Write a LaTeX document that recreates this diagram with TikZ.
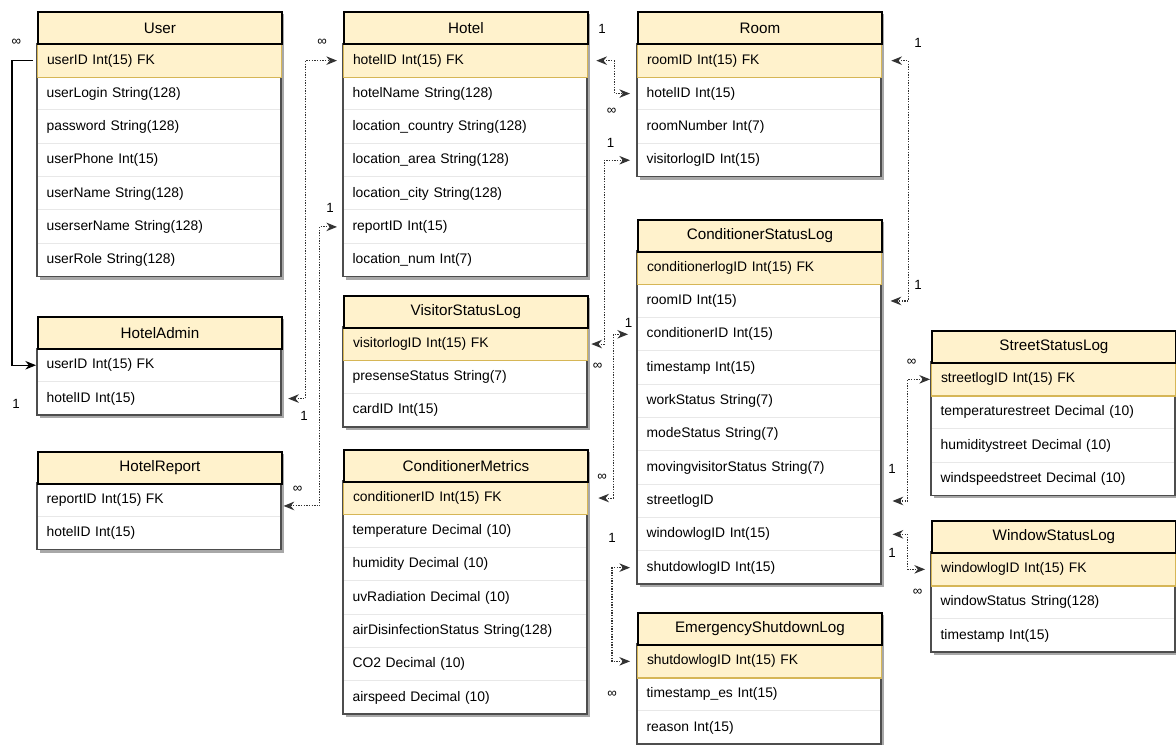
\documentclass[tikz,border=0pt]{standalone}
\usepackage{fontspec}
\setmainfont{Liberation Sans}
\usetikzlibrary{arrows.meta,calc}
\definecolor{hdrfill}{HTML}{FFF2CC}
\definecolor{fkfill}{HTML}{FFF2CC}
\definecolor{fkline}{HTML}{D6B656}
\definecolor{bodyc}{HTML}{4D4D4D}
\definecolor{sepc}{HTML}{E8E8E8}
\definecolor{connc}{HTML}{333333}
\definecolor{shadowc}{HTML}{A8A8A8}
\tikzset{
  hdr/.style={anchor=north west, minimum width=183pt, minimum height=24pt, inner sep=0pt,
    fill=hdrfill, draw=black, line width=1.4pt, font=\fontsize{11.4}{13}\selectfont},
  row/.style={anchor=north west, minimum width=183pt, minimum height=25pt, inner xsep=7pt,
    inner ysep=0pt, text width=169pt, align=left, font=\fontsize{10.4}{12}\selectfont},
  fkrow/.style={fill=fkfill, draw=fkline, line width=1pt},
  plainrow/.style={},
  bodybox/.style={fill=white, draw=bodyc, line width=1.2pt},
  sepline/.style={draw=sepc, line width=0.75pt},
  shadowbox/.style={fill=shadowc},
  tipc/.tip={Stealth[length=8pt, width=6.4pt, inset=2.6pt]},
  conn/.style={draw=connc, line width=0.8pt, dash pattern=on 1pt off 1pt, tipc-tipc},
  solidconn/.style={draw=black, line width=0.85pt, -tipc},
  lbl/.style={inner sep=0pt, font=\fontsize{10}{12}\selectfont}
}
\newcommand\ertable[7]{%
  \fill[shadowbox] ({#2+3},{#3+3}) rectangle ({#2+247},{#3+35+33.333*#5});
  \draw[bodybox] (#2,{#3+32}) rectangle ({#2+244},{#3+32+33.333*#5});
  \foreach \jj in {2,...,#5} {
    \draw[sepline] ({#2+1},{#3+32+33.333*(\jj-1)}) -- ({#2+243},{#3+32+33.333*(\jj-1)});
  }
  \foreach \rk/\rt [count=\ii] in {#7} {
    \ifnum\ii=1\relax
      \node[row,#6] (#1-\rk) at (#2,{#3+32+33.333*(\ii-1)}) {\rt};
    \else
      \node[row] (#1-\rk) at (#2,{#3+32+33.333*(\ii-1)}) {\rt};
    \fi
  }
  \node[hdr] (#1) at (#2,#3) {#4};
}
\begin{document}
\begin{tikzpicture}[x=0.75pt,y=-0.75pt]
\useasboundingbox (0,0) rectangle (1176,744);
\fill[white] (0,0) rectangle (1176,744);

\ertable{user}{37}{11.3}{User}{7}{fkrow}{uid/userID Int(15) FK, login/userLogin String(128), pw/password String(128), phone/userPhone Int(15), name/userName String(128), sername/userserName String(128), role/userRole String(128)}
\ertable{hotel}{343}{11.3}{Hotel}{7}{fkrow}{hid/hotelID Int(15) FK, name/hotelName String(128), country/location\_country String(128), area/location\_area String(128), city/location\_city String(128), rid/reportID Int(15), num/location\_num Int(7)}
\ertable{room}{637}{11.3}{Room}{4}{fkrow}{rid/roomID Int(15) FK, hid/hotelID Int(15), num/roomNumber Int(7), vid/visitorlogID Int(15)}
\ertable{admin}{37}{316.3}{HotelAdmin}{2}{plainrow}{uid/userID Int(15) FK, hid/hotelID Int(15)}
\ertable{report}{37}{451}{HotelReport}{2}{plainrow}{rid/reportID Int(15) FK, hid/hotelID Int(15)}
\ertable{vsl}{343}{294.7}{VisitorStatusLog}{3}{fkrow}{vid/visitorlogID Int(15) FK, pres/presenseStatus String(7), card/cardID Int(15)}
\ertable{cm}{343}{448.7}{ConditionerMetrics}{7}{fkrow}{cid/conditionerID Int(15) FK, temp/temperature Decimal (10), hum/humidity Decimal (10), uv/uvRadiation Decimal (10), air/airDisinfectionStatus String(128), co/CO2 Decimal (10), speed/airspeed Decimal (10)}
\ertable{csl}{637}{218.7}{ConditionerStatusLog}{10}{fkrow}{clid/conditionerlogID Int(15) FK, rid/roomID Int(15), cid/conditionerID Int(15), ts/timestamp Int(15), work/workStatus String(7), mode/modeStatus String(7), moving/movingvisitorStatus String(7), sid/streetlogID, wid/windowlogID Int(15), shid/shutdowlogID Int(15)}
\ertable{esl}{637}{612}{EmergencyShutdownLog}{3}{fkrow}{shid/shutdowlogID Int(15) FK, ts/timestamp\_es Int(15), reason/reason Int(15)}
\ertable{ssl}{931}{330}{StreetStatusLog}{4}{fkrow}{sid/streetlogID Int(15) FK, temp/temperaturestreet Decimal (10), hum/humiditystreet Decimal (10), wind/windspeedstreet Decimal (10)}
\ertable{wsl}{931}{520}{WindowStatusLog}{3}{fkrow}{wid/windowlogID Int(15) FK, ws/windowStatus String(128), ts/timestamp Int(15)}

% connectors
\draw[solidconn, shorten <=3pt, shorten >=0.75pt] (user-uid.west) -- ++(-25,0) |- (admin-uid.west);
\draw[conn, shorten <=5pt, shorten >=4.5pt] (admin-hid.east) -- ++(24,0) |- (hotel-hid.west);
\draw[conn, shorten <=1.5pt, shorten >=4.5pt] ($(report-rid.east)+(0,6)$) -- ++(38,0) |- (hotel-rid.west);
\draw[conn, shorten <=6pt, shorten >=5.25pt] (hotel-hid.east) -- ++(26,0) |- (room-hid.west);
\draw[conn, shorten <=2.25pt, shorten >=5.25pt] (vsl-vid.east) -- ++(16,0) |- (room-vid.west);
\draw[conn, shorten <=7.5pt, shorten >=6.75pt] (cm-cid.east) -- ++(25,0) |- (csl-cid.west);
\draw[conn, shorten <=6.75pt, shorten >=6.75pt] (room-rid.east) -- ++(26,0) |- (csl-rid.east);
\draw[conn, shorten <=8.25pt, shorten >=0.75pt] (csl-sid.east) -- ++(26,0) |- (ssl-sid.west);
\draw[conn, shorten <=8.25pt, shorten >=4.5pt] (csl-wid.east) -- ++(26,0) |- (wsl-wid.west);
\draw[conn, shorten <=5.25pt, shorten >=5.25pt] (csl-shid.west) -- ++(-25,0) |- (esl-shid.west);

% cardinality labels
\node[lbl] (l1) at (16.5,42) {∞};
\node[lbl] (l2) at (322,42) {∞};
\node[lbl] (l3) at (602,29) {1};
\node[lbl] (l4) at (918,43) {1};
\node[lbl] (l5) at (611.5,111) {∞};
\node[lbl] (l6) at (610.5,143) {1};
\node[lbl] (l7) at (330,208) {1};
\node[lbl] (l8) at (918,285) {1};
\node[lbl] (l9) at (628.5,323) {1};
\node[lbl] (l10) at (597.5,366) {∞};
\node[lbl] (l11) at (911.5,362) {∞};
\node[lbl] (l12) at (16,404) {1};
\node[lbl] (l13) at (304,416) {1};
\node[lbl] (l14) at (297.5,489.5) {∞};
\node[lbl] (l15) at (602,477) {∞};
\node[lbl] (l16) at (892,469) {1};
\node[lbl] (l17) at (612,538) {1};
\node[lbl] (l18) at (892,553) {1};
\node[lbl] (l19) at (917.5,592) {∞};
\node[lbl] (l20) at (612,694) {∞};
\end{tikzpicture}
\end{document}
